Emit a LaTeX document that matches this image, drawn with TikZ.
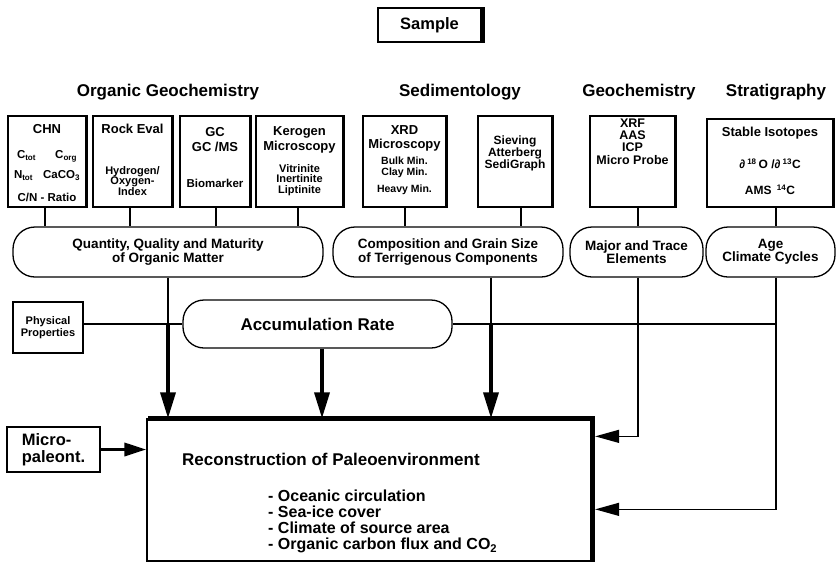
\documentclass[tikz,border=0pt]{standalone}
\usepackage{fontspec}
\setmainfont{Liberation Sans}
\usetikzlibrary{arrows.meta,calc}
\newcommand\fz[2]{\fontsize{#1pt}{#2pt}\selectfont\bfseries}
\begin{document}
\begin{tikzpicture}[x=1pt,y=-1pt,
  sbox/.style={draw, line width=1.3pt, inner sep=0pt},
  oval/.style={draw, line width=1.3pt, rounded corners=22pt, inner sep=0pt, align=center, font=\fz{13.5}{13.5}},
  txt/.style={inner sep=0pt, align=center},
  thinl/.style={line width=1.2pt},
  bigarrow/.style={line width=3.5pt, -{Triangle[length=26pt,width=15pt]}},
  midarrow/.style={line width=3.5pt, -{Triangle[length=22pt,width=13pt]}},
  smallarrow/.style={line width=1.3pt, -{Triangle[length=24pt,width=13pt]}}]
\useasboundingbox (0,0) rectangle (836,563);

% Sample
\node[sbox, minimum width=103pt, minimum height=34pt, font=\fz{16.5}{18}] (sample) at (429.5,25) {Sample};
\draw[line width=4pt] ([xshift=1.5pt]sample.north east) -- ([xshift=1.5pt]sample.south east);

% headers
\node[txt, font=\fz{17}{20}] (hOG) at (168,92) {Organic Geochemistry};
\node[txt, font=\fz{17}{20}] (hSed) at (460,92) {Sedimentology};
\node[txt, font=\fz{17}{20}] (hGeo) at (639,92) {Geochemistry};
\node[txt, font=\fz{17}{20}] (hStr) at (776,92) {Stratigraphy};

% method boxes
\node[sbox, minimum width=78pt, minimum height=91pt] (chn) at (47,161.5) {};
\node[sbox, minimum width=79pt, minimum height=91pt] (rock) at (132.5,161.5) {};
\node[sbox, minimum width=70pt, minimum height=91pt] (gc) at (215,161.5) {};
\node[sbox, minimum width=87pt, minimum height=91pt] (ker) at (299.5,161.5) {};
\node[sbox, minimum width=83pt, minimum height=91pt] (xrd) at (404.5,161.5) {};
\node[sbox, minimum width=74pt, minimum height=91pt] (sieve) at (515,161.5) {};
\node[sbox, minimum width=85pt, minimum height=91pt] (xrf) at (632.5,161.5) {};
\node[sbox, minimum width=126pt, minimum height=88pt] (stab) at (770,163) {};
\foreach \b in {chn,rock,gc,ker,xrd,sieve,xrf,stab}
  \draw[line width=2.4pt] (\b.north east) -- (\b.south east);

% box texts
\node[txt, font=\fz{13}{15}] (chnT) at (47,129) {CHN};
\node[txt, font=\fz{11.5}{14}] (chnD) at (47,176.5)
  {\makebox[60pt]{C\textsubscript{tot}\hfill C\textsubscript{org}}\\[6pt]
   \makebox[66pt]{N\textsubscript{tot}\hfill CaCO\textsubscript{3}}\\[9pt]
   C/N - Ratio};
\node[txt, font=\fz{13}{15}] (rockT) at (132.5,128.5) {Rock Eval};
\node[txt, font=\fz{11}{10.6}] (rockD) at (132.5,181) {Hydrogen/\\Oxygen-\\Index};
\node[txt, font=\fz{13}{15}] (gcT) at (215,139.5) {GC\\GC /MS};
\node[txt, font=\fz{11.5}{14}] (gcD) at (215,183) {Biomarker};
\node[txt, font=\fz{13}{15}] (kerT) at (299.5,139.5) {Kerogen\\Microscopy};
\node[txt, font=\fz{11}{10.6}] (kerD) at (299.5,180) {Vitrinite\\Inertinite\\Liptinite};
\node[txt, font=\fz{13}{14}] (xrdT) at (404.5,138.5) {XRD\\Microscopy};
\node[txt, font=\fz{10.5}{10.6}] (xrdD) at (404.5,176) {Bulk Min.\\Clay Min.\\[7pt]Heavy Min.};
\node[txt, font=\fz{12}{11.8}] (sieveT) at (515,153.5) {Sieving\\Atterberg\\SediGraph};
\node[txt, font=\fz{12.5}{12.2}] (xrfT) at (632.5,141.5) {XRF\\AAS\\ICP\\Micro Probe};
\node[txt, font=\fz{13}{15}] (stabT) at (770,133.5) {Stable Isotopes};
\node[txt, font=\fz{12}{14}] (stabD) at (770,163.5) {∂\,\textsuperscript{18}\,O /∂\,\textsuperscript{13}C};
\node[txt, font=\fz{12}{14}] (stabE) at (770,190) {AMS \,\textsuperscript{14}C};

% ovals
\node[oval, minimum width=310pt, minimum height=50pt] (oOrg) at (168,252) {Quantity, Quality and Maturity\\of Organic Matter};
\node[oval, minimum width=230pt, minimum height=50pt] (oComp) at (448,252) {Composition and Grain Size\\of Terrigenous Components};
\node[oval, minimum width=133pt, minimum height=50pt] (oMaj) at (636.5,252) {Major and Trace\\Elements};
\node[oval, minimum width=129pt, minimum height=50pt] (oAge) at (770.5,252) {Age\\Climate Cycles};

% box -> oval connectors
\draw[thinl] ([xshift=-2pt]chn.south) -- ([xshift=-2pt]chn.south |- oOrg.north);
\draw[thinl] ([xshift=-2.5pt]rock.south) -- ([xshift=-2.5pt]rock.south |- oOrg.north);
\draw[thinl] ([xshift=1pt]gc.south) -- ([xshift=1pt]gc.south |- oOrg.north);
\draw[thinl] ([xshift=-1.5pt]ker.south) -- ([xshift=-1.5pt]ker.south |- oOrg.north);
\draw[thinl] ([xshift=0.5pt]xrd.south) -- ([xshift=0.5pt]xrd.south |- oComp.north);
\draw[thinl] ([xshift=6pt]sieve.south) -- ([xshift=6pt]sieve.south |- oComp.north);
\draw[thinl] ([xshift=5.5pt]xrf.south) -- ([xshift=5.5pt]xrf.south |- oMaj.north);
\draw[thinl] ([xshift=6pt]stab.south) -- ([xshift=6pt]stab.south |- oAge.north);

% accumulation, physical properties, micro-paleont
\node[oval, minimum width=269pt, minimum height=48pt, rounded corners=21pt, font=\fz{17}{20}] (acc) at (317.5,324) {Accumulation Rate};
\node[sbox, minimum width=70pt, minimum height=51pt, align=center, font=\fz{11}{11.5}] (phys) at (48,327.5) {Physical\\Properties};
\node[sbox, line width=1.8pt, minimum width=93pt, minimum height=45pt, align=left, font=\fz{16.5}{17}] (micro) at (53.5,449.5) {Micro-\\paleont.};

% reconstruction box
\node[sbox, minimum width=445pt, minimum height=142pt] (recon) at (369.5,490) {};
\draw[line width=5pt, line join=miter] ([xshift=2pt]recon.north west) -- (recon.north east) -- (recon.south east);
\node[txt, anchor=west, font=\fz{17}{20}] (reconT) at (182,459) {Reconstruction of Paleoenvironment};
\node[txt, anchor=west, align=left, font=\fz{16}{16}] (reconL) at (268,521.5)
  {- Oceanic circulation\\- Sea-ice cover\\- Climate of source area\\- Organic carbon flux and CO\textsubscript{2}};

% junctions
\coordinate (jOrg) at (oOrg.south |- acc.west);
\coordinate (jComp) at ([xshift=43pt]oComp.south |- acc.east);
\coordinate (jMaj) at ([xshift=1.5pt]oMaj.south |- acc.east);
\coordinate (jAge) at ([xshift=5.5pt]oAge.south |- acc.east);
\coordinate (kMaj) at ($(jMaj |- recon.north)+(0,18)$);
\coordinate (kAge) at ($(jAge |- recon.north)+(0,91)$);

% flow lines
\draw[thinl] (oOrg.south) -- (jOrg);
\draw[thinl] (phys.east |- acc.west) -- (acc.west);
\draw[thinl] (acc.east) -- (jAge);
\draw[thinl] (jComp |- oComp.south) -- (jComp);
\draw[bigarrow] (jOrg) -- (jOrg |- recon.north);
\draw[bigarrow] (jComp) -- (jComp |- recon.north);
\draw[bigarrow] ([xshift=4.5pt]acc.south) -- ([xshift=4.5pt]acc.south |- recon.north);
\draw[thinl, smallarrow] (jMaj |- oMaj.south) -- (kMaj) -- ([xshift=2.5pt]kMaj -| recon.east);
\draw[thinl, smallarrow] (jAge |- oAge.south) -- (kAge) -- ([xshift=2.5pt]kAge -| recon.east);
\draw[midarrow] (micro.east) -- (micro.east -| recon.west);
\end{tikzpicture}
\end{document}
